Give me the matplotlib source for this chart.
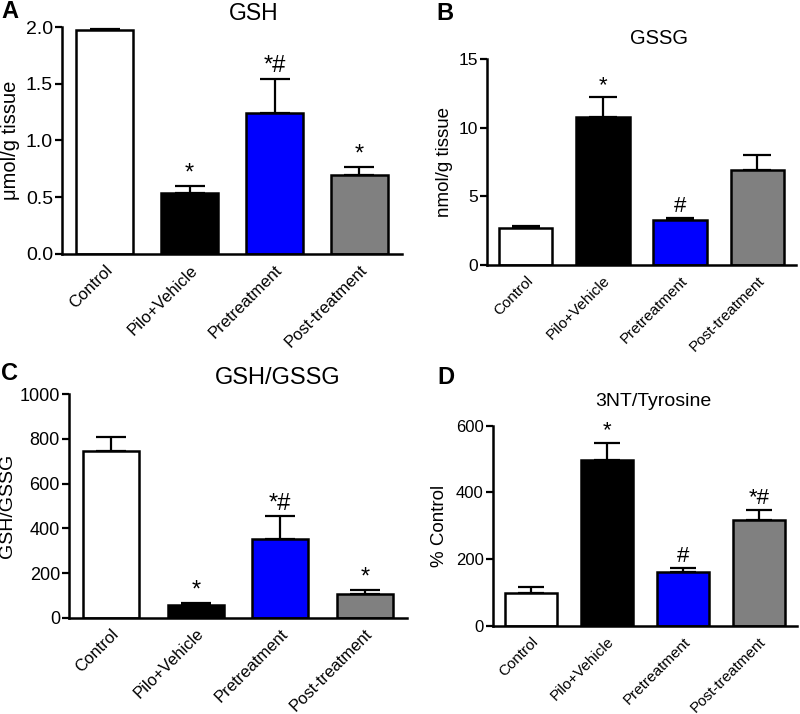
import matplotlib
matplotlib.use("Agg")
import matplotlib.pyplot as plt
import numpy as np

plt.rcParams['font.family'] = ['Liberation Sans', 'DejaVu Sans']

categories = ["Control", "Pilo+Vehicle", "Pretreatment", "Post-treatment"]
colors = ["#ffffff", "#000000", "#0000ff", "#808080"]

gsh_mean = [1.97, 0.535, 1.245, 0.696]
gsh_err = [0.01, 0.065, 0.30, 0.068]
gsh_sig = ["", "*", "*#", "*"]

gssg_mean = [2.67, 10.75, 3.28, 6.92]
gssg_err = [0.19, 1.45, 0.12, 1.07]
gssg_sig = ["", "*", "#", ""]

ratio_mean = [747, 57, 352, 106]
ratio_err = [60, 10, 103, 19]
ratio_sig = ["", "*", "*#", "*"]

nt_mean = [98, 497, 161, 318]
nt_err = [18, 52, 13, 29]
nt_sig = ["", "*", "#", "*#"]

W, H = 800, 714
fig = plt.figure(figsize=(W / 100, H / 100), dpi=100)


def px_axes(left, right, bottom, top):
    return fig.add_axes([left / W, (H - bottom) / H, (right - left) / W, (bottom - top) / H])


def panel(ax, means, errs, sigs, ylim, yticks, yticklabels, ylabel, tick_fs, xtick_fs,
          ylab_fs, sig_fs, width, capsize, label_x):
    x = np.arange(len(categories))
    ax.bar(x, means, width=width, color=colors, edgecolor="black", linewidth=1.8, zorder=2)
    ax.errorbar(x, means, yerr=[np.zeros(len(errs)), errs], fmt="none", ecolor="black",
                elinewidth=1.6, capsize=capsize, capthick=1.6, zorder=1)
    for xi, m, e, s in zip(x, means, errs, sigs):
        if s:
            ax.annotate(s, (xi, m + e), xytext=(0, 1), textcoords="offset points",
                        ha="center", va="bottom", fontsize=sig_fs)
    ax.set_xlim(-0.5, 3.5)
    ax.set_ylim(*ylim)
    ax.set_yticks(yticks)
    ax.set_yticklabels(yticklabels, fontsize=tick_fs)
    ax.set_xticks(x)
    ax.set_xticklabels(categories, rotation=45, ha="right", rotation_mode="anchor", fontsize=xtick_fs)
    ax.tick_params(axis="x", length=0, pad=6)
    ax.tick_params(axis="y", length=5, width=1.6, direction="out", pad=1.5)
    for sp in ["top", "right"]:
        ax.spines[sp].set_visible(False)
    for sp in ["left", "bottom"]:
        ax.spines[sp].set_linewidth(1.8)
    ax.set_ylabel(ylabel, fontsize=ylab_fs)
    ax.yaxis.set_label_coords(label_x, 0.5)


axA = px_axes(62, 402, 254, 27)
panel(axA, gsh_mean, gsh_err, gsh_sig, (0, 2.0), [0, 0.5, 1.0, 1.5, 2.0],
      ["0.0", "0.5", "1.0", "1.5", "2.0"], "μmol/g tissue", 14, 12, 14.5, 17, 0.67, 11, -0.1235)

axB = px_axes(487, 796, 265, 59)
panel(axB, gssg_mean, gssg_err, gssg_sig, (0, 15), [0, 5, 10, 15],
      ["0", "5", "10", "15"], "nmol/g tissue", 12.5, 11, 13.5, 16, 0.69, 10, -0.110)

axC = px_axes(69, 407, 617.7, 394.3)
panel(axC, ratio_mean, ratio_err, ratio_sig, (0, 1000), [0, 200, 400, 600, 800, 1000],
      ["0", "200", "400", "600", "800", "1000"], "GSH/GSSG", 13, 12, 14, 17, 0.66, 11, -0.157)

axD = px_axes(492.7, 797, 626, 425.7)
panel(axD, nt_mean, nt_err, nt_sig, (0, 600), [0, 200, 400, 600],
      ["0", "200", "400", "600"], "% Control", 12, 11, 13.5, 16, 0.68, 9.5, -0.147)


def ftext(x, y, s, **kw):
    fig.text(x / W, 1 - y / H, s, **kw)


ftext(254, 13, "GSH", ha="center", va="center", fontsize=16.5)
ftext(659, 38, "GSSG", ha="center", va="center", fontsize=14.5)
ftext(278, 378, "GSH/GSSG", ha="center", va="center", fontsize=17)
ftext(653, 402, "3NT/Tyrosine", ha="center", va="center", fontsize=14)

ftext(10, 11, "A", ha="center", va="center", fontsize=17, fontweight="bold")
ftext(445, 13, "B", ha="center", va="center", fontsize=17, fontweight="bold")
ftext(9, 373, "C", ha="center", va="center", fontsize=17, fontweight="bold")
ftext(446, 377, "D", ha="center", va="center", fontsize=17, fontweight="bold")

fig.savefig("out.png", dpi=100)
